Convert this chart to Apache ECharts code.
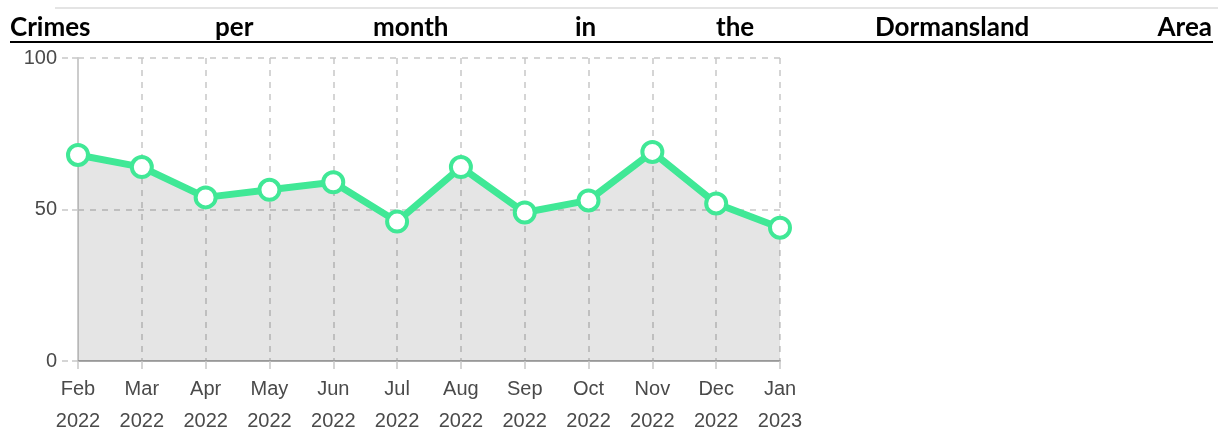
<!DOCTYPE html>
<html><head><meta charset="utf-8">
<script src="https://cdn.jsdelivr.net/npm/echarts@6/dist/echarts.min.js"></script>
<style>html,body{margin:0;padding:0;background:#fff}#c{width:1218px;height:441px}</style>
</head><body><div id="c"></div>
<script>
const titleWords = ['Crimes','per','month','in','the','Dormansland','Area'];
const months = ['Feb','Mar','Apr','May','Jun','Jul','Aug','Sep','Oct','Nov','Dec','Jan'];
const years = ['2022','2022','2022','2022','2022','2022','2022','2022','2022','2022','2022','2023'];
const crimes = [68, 64, 54, 56.5, 59, 46, 64, 49, 53, 69, 52, 44];
const yTicks = [0, 50, 100];

const categories = months.map((m, i) => m + '\n' + years[i]);
const chart = echarts.init(document.getElementById('c'), null, {renderer: 'canvas'});

// justified title words
const wordX = [10, 215, 373, 575, 716, 875, 1212];
const titleEls = titleWords.map((w, i) => ({
  type: 'text', left: i === titleWords.length - 1 ? null : wordX[i],
  right: i === titleWords.length - 1 ? 1218 - wordX[i] : null, top: 15,
  style: {text: w, font: 'bold 26px Lato, "Open Sans", sans-serif', fill: '#000'}
}));

chart.setOption({
  animation: false,
  graphic: [
    {type: 'rect', shape: {x: 55, y: 7, width: 1163, height: 2}, style: {fill: '#e4e4e4'}},
    {type: 'rect', shape: {x: 10, y: 41, width: 1203, height: 2}, style: {fill: '#000'}}
  ].concat(titleEls),
  grid: {left: 78, right: 438, top: 58, bottom: 80, containLabel: false},
  xAxis: {
    type: 'category', data: categories, boundaryGap: false,
    axisLine: {lineStyle: {color: '#aaa', width: 2}},
    axisTick: {show: true, length: 8, lineStyle: {color: '#c8c8c8', width: 1.5}},
    axisLabel: {color: '#4a4a4a', fontSize: 20, fontFamily: 'Liberation Sans, Arial, sans-serif', lineHeight: 32, margin: 12},
    splitLine: {show: true, lineStyle: {color: '#c8c8c8', type: [6, 6], width: 1.5}}
  },
  yAxis: {
    type: 'value', min: 0, max: 100, interval: 50,
    axisLine: {show: true, lineStyle: {color: '#ccc', width: 2}},
    axisTick: {show: true, length: 20, lineStyle: {color: '#c8c8c8', type: [6, 4], width: 1.5}},
    axisLabel: {color: '#4a4a4a', fontSize: 20, fontFamily: 'Liberation Sans, Arial, sans-serif', margin: 21,
      formatter: v => yTicks.includes(v) ? String(v) : ''},
    splitLine: {show: true, lineStyle: {color: '#c8c8c8', type: [6, 6], width: 1.5}}
  },
  series: [{
    type: 'line', data: crimes,
    lineStyle: {color: '#40e896', width: 7},
    itemStyle: {color: '#fff', borderColor: '#40e896', borderWidth: 4},
    symbol: 'circle', symbolSize: 20, showAllSymbol: true,
    areaStyle: {color: 'rgba(0,0,0,0.1)', opacity: 1}
  }]
});
</script></body></html>
